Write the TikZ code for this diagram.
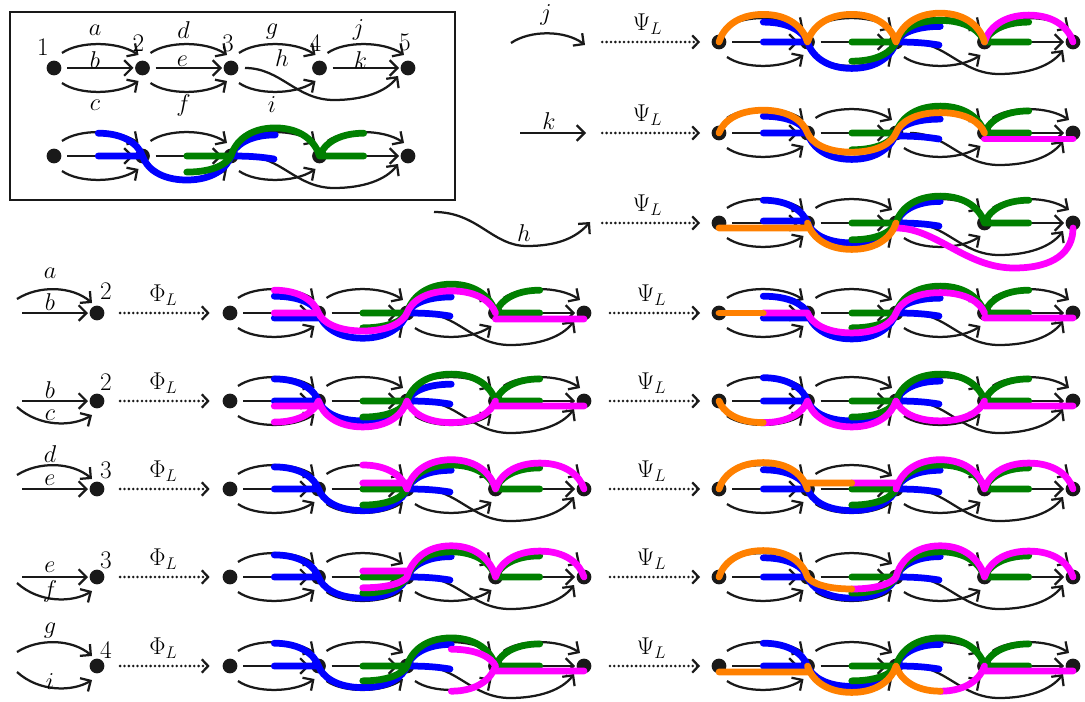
\documentclass[tikz,border=0pt]{standalone}
\usetikzlibrary{arrows.meta}
\definecolor{cblue}{RGB}{0,0,255}
\definecolor{cgreen}{RGB}{0,128,0}
\definecolor{cmag}{RGB}{255,0,255}
\definecolor{corange}{RGB}{255,128,0}
\definecolor{ink}{RGB}{25,25,25}

% spacing between consecutive vertices (in picture units)
\def\gsp{88.5}

\tikzset{
  edge/.style={draw=ink, line width=1.6pt, -{Straight Barb[length=5.5pt,width=11pt]}},
  dot/.style={circle, fill=ink, inner sep=0pt, minimum size=10.5pt},
  frame/.style={draw=ink, line width=1.6pt},
  hl/.style={line width=4.8pt, line cap=round},
  hb/.style={hl, draw=cblue},
  hg/.style={hl, draw=cgreen},
  hm/.style={hl, draw=cmag},
  ho/.style={hl, draw=corange},
  mapto/.style={draw=ink, line width=2pt, dash pattern=on 0pt off 3.1pt, line cap=round,
    -{Straight Barb[length=4.5pt,width=9.5pt,line width=1.6pt]}},
}

% black arrows of the quiver
\newcommand\qtopedge[2]{\draw[edge] ([shift={(8,15)}]#1.center) .. controls ([shift={(25,27)}]#1.center) and ([shift={(-25,27)}]#2.center) .. ([shift={(-4,13)}]#2.center);}
\newcommand\qbotedge[2]{\draw[edge] ([shift={(8,-15)}]#1.center) .. controls ([shift={(25,-27)}]#1.center) and ([shift={(-25,-27)}]#2.center) .. ([shift={(-4,-13)}]#2.center);}
\newcommand\qstredge[2]{\draw[edge] ([shift={(13,0)}]#1.center) -- ([shift={(-9,0)}]#2.center);}
\newcommand\qlongedge[2]{\draw[edge] ([shift={(14,0)}]#1.center) .. controls ([shift={(50,0)}]#1.center) and ([shift={(65,-32)}]#1.center) .. ([shift={(103,-32)}]#1.center) .. controls ([shift={(-45,-32)}]#2.center) and ([shift={(-22,-24)}]#2.center) .. ([shift={(-10,-8)}]#2.center);}

% the quiver: vertices #1n1..#1n5 at (#2,#3), y measured downwards
\newcommand\qgraph[3]{%
  \begin{scope}[shift={(#2,-#3)}]
    \foreach \k in {1,...,5}{\node[dot] (#1n\k) at ({(\k-1)*\gsp},0) {};}
    \qtopedge{#1n1}{#1n2}\qstredge{#1n1}{#1n2}\qbotedge{#1n1}{#1n2}
    \qtopedge{#1n2}{#1n3}\qstredge{#1n2}{#1n3}\qbotedge{#1n2}{#1n3}
    \qtopedge{#1n3}{#1n4}\qlongedge{#1n3}{#1n5}\qbotedge{#1n3}{#1n4}
    \qtopedge{#1n4}{#1n5}\qstredge{#1n4}{#1n5}
  \end{scope}}

% half arrows for the coloured paths: vertex index, height factor / offset
\newcommand\qTout[2]{({(#1-1)*\gsp},0) .. controls ({(#1-1)*\gsp+4},{12*#2}) and ({(#1-1)*\gsp+18},{24*#2}) .. ({(#1-0.5)*\gsp},{24*#2})}
\newcommand\qTin[2]{({(#1-1.5)*\gsp},{24*#2}) .. controls ({(#1-1)*\gsp-18},{24*#2}) and ({(#1-1)*\gsp-4},{12*#2}) .. ({(#1-1)*\gsp},0)}
\newcommand\qBout[2]{({(#1-1)*\gsp},0) .. controls ({(#1-1)*\gsp+4},{-12*#2}) and ({(#1-1)*\gsp+18},{-24*#2}) .. ({(#1-0.5)*\gsp},{-24*#2})}
\newcommand\qBin[2]{({(#1-1.5)*\gsp},{-24*#2}) .. controls ({(#1-1)*\gsp-18},{-24*#2}) and ({(#1-1)*\gsp-4},{-12*#2}) .. ({(#1-1)*\gsp},0)}
\newcommand\qSout[2]{({(#1-1)*\gsp},#2) -- ({(#1-0.5)*\gsp},#2)}
\newcommand\qSin[2]{({(#1-1.5)*\gsp},#2) -- ({(#1-1)*\gsp},#2)}
\newcommand\qHout[1]{({2*\gsp},#1) .. controls ({2*\gsp+20},#1) and ({2*\gsp+30},{#1-1}) .. ({2*\gsp+43},{#1-3})}
\newcommand\qHfull[1]{({2*\gsp},#1) .. controls ({2*\gsp+40},#1) and ({2*\gsp+70},{#1-40}) .. ({2*\gsp+118},{#1-40}) .. controls ({2*\gsp+158},{#1-40}) and ({4*\gsp},{#1-24}) .. ({4*\gsp},#1)}

\newcommand\stdblue[5]{\draw[hb] \qTin{2}{#1} \qSin{2}{#2} \qBout{2}{#3} \qBin{3}{#3} \qTout{3}{#4} \qHout{#5};}
\newcommand\stdgreen[3]{\draw[hg] \qSin{3}{0} \qBin{3}{#1} \qTout{3}{#2} \qTin{4}{#2} \qTout{4}{#3} \qSout{4}{0};}
\newcommand\qovl[3]{\begin{scope}[shift={(#1,-#2)}]#3\end{scope}}

% incoming pair of arrows at a single vertex
\newcommand\inarrtop[1]{\draw[edge] ([shift={(-80,14)}]#1.center) .. controls ([shift={(-58,28)}]#1.center) and ([shift={(-25,27)}]#1.center) .. ([shift={(-5,10)}]#1.center);}
\newcommand\inarrstr[1]{\draw[edge] ([shift={(-75,0)}]#1.center) -- ([shift={(-9,0)}]#1.center);}
\newcommand\inarrbot[1]{\draw[edge] ([shift={(-80,-6)}]#1.center) .. controls ([shift={(-58,-26)}]#1.center) and ([shift={(-25,-26)}]#1.center) .. ([shift={(-5,-14)}]#1.center);}

\begin{document}
\begin{tikzpicture}[x=0.025cm, y=0.025cm, font=\fontsize{18}{21}\selectfont]
\useasboundingbox (0,0) rectangle (1085,-702);

% ---------- framed quiver and its reference paths ----------
\coordinate (boxtl) at (10,-12);
\coordinate (boxbr) at (455,-200);
\draw[frame] (boxtl) rectangle (boxbr);
\qgraph{A}{54}{68}
\node (A1) at ([shift={(-11,21)}]An1) {1};
\node (A2) at ([shift={(-4,25)}]An2) {2};
\node (A3) at ([shift={(-3,25)}]An3) {3};
\node (A4) at ([shift={(-4,25)}]An4) {4};
\node (A5) at ([shift={(-3,26)}]An5) {5};
\node (la) at ([shift={(41,38)}]An1) {$a$};
\node (lb) at ([shift={(41,8)}]An1) {$b$};
\node (lc) at ([shift={(41,-37)}]An1) {$c$};
\node (ld) at ([shift={(41,38)}]An2) {$d$};
\node (le) at ([shift={(40,7)}]An2) {$e$};
\node (lf) at ([shift={(41,-37)}]An2) {$f$};
\node (lg) at ([shift={(41,36)}]An3) {$g$};
\node (lh) at ([shift={(51,10)}]An3) {$h$};
\node (li) at ([shift={(41,-37)}]An3) {$i$};
\node (lj) at ([shift={(39,38)}]An4) {$j$};
\node (lk) at ([shift={(41,8)}]An4) {$k$};

\qgraph{B}{54}{156}
\qovl{54}{156}{\stdblue{0.95}{0}{1.0}{0.88}{0}\stdgreen{0.67}{1.17}{0.95}}

% ---------- row j ----------
\coordinate (js) at (511,-43);
\coordinate (je) at (585,-45);
\draw[edge] (js) .. controls (530,-30) and (565,-30) .. (je);
\node (tj) at (546,-15) {$j$};
\coordinate (pj) at (584,-42);
\qgraph{R1}{719}{42}
\draw[mapto, shorten <=13pt, shorten >=8pt] (pj) -- node[above=1pt] {$\Psi_L$} (R1n1);
\qovl{719}{42}{\stdblue{0.83}{0}{1.1}{0.65}{0}\stdgreen{0.8}{0.9}{0.83}
  \draw[hm] \qTout{4}{1.12} \qTin{5}{1.12};
  \draw[ho] \qTout{1}{1.15} \qTin{2}{1.15} \qTout{2}{1.15} \qTin{3}{1.15} \qTout{3}{1.2} \qTin{4}{1.2};}

% ---------- row k ----------
\coordinate (ks) at (520,-133);
\coordinate (ke) at (586,-133);
\draw[edge] (ks) -- (ke);
\node (tk) at (549,-121) {$k$};
\coordinate (pk) at (584,-133);
\qgraph{R2}{719}{133}
\draw[mapto, shorten <=13pt, shorten >=8pt] (pk) -- node[above=1pt] {$\Psi_L$} (R2n1);
\qovl{719}{133}{\stdblue{0.7}{0}{1.1}{0.58}{-3}\stdgreen{0.7}{1.12}{0.92}
  \draw[hm] \qSout{4}{-6} \qSin{5}{-6};
  \draw[ho] \qTout{1}{0.95} \qTin{2}{0.95} \qBout{2}{0.8} \qBin{3}{0.8} \qTout{3}{0.85} \qTin{4}{0.85};}

% ---------- row h ----------
\coordinate (hs) at (434,-212);
\coordinate (he) at (590,-222);
\draw[edge] (hs) .. controls (478,-212) and (492,-246) .. (527,-246) .. controls (557,-246) and (576,-238) .. (he);
\node (th) at (524,-233) {$h$};
\coordinate (ph) at (584,-223);
\qgraph{R3}{719}{223}
\draw[mapto, shorten <=13pt, shorten >=8pt] (ph) -- node[above=1pt] {$\Psi_L$} (R3n1);
\qovl{719}{223}{\stdblue{0.95}{2}{0.83}{0.9}{0}\stdgreen{0.7}{1.12}{0.95}
  \draw[hm] \qHfull{-5};
  \draw[ho] \qSout{1}{-5} \qSin{2}{-5} \qBout{2}{1.1} \qBin{3}{1.1};}

% ---------- row a, b ----------
\node[dot] (v4) at (97,-313) {};
\inarrtop{v4}\inarrstr{v4}
\node (v4a) at ([shift={(-47,40)}]v4) {$a$};
\node (v4b) at ([shift={(-47,11)}]v4) {$b$};
\node (v4n) at ([shift={(9,22)}]v4) {2};
\qgraph{L4}{230}{313}
\qgraph{R4}{719}{313}
\draw[mapto, shorten <=11pt, shorten >=9pt] (v4) -- node[above=1pt] {$\Phi_L$} (L4n1);
\draw[mapto, shorten <=13pt, shorten >=8pt] (L4n5) -- node[above=1pt] {$\Psi_L$} (R4n1);
\qovl{230}{313}{\stdblue{0.7}{-5}{1.05}{0.67}{0}\stdgreen{0.62}{1.2}{0.95}
  \draw[hm] \qTin{2}{0.95} \qSin{2}{0} \qBout{2}{0.75} \qBin{3}{0.75} \qTout{3}{0.92} \qTin{4}{0.92} \qSout{4}{-6} \qSin{5}{-6};}
\qovl{719}{313}{\stdblue{0.7}{-5}{1.08}{0.62}{0}\stdgreen{0.62}{1.12}{0.95}
  \draw[hm] \qSin{2}{0} \qBout{2}{0.83} \qBin{3}{0.83} \qTout{3}{0.85} \qTin{4}{0.85} \qSout{4}{-5} \qSin{5}{-5};
  \draw[ho] \qSout{1}{0};}

% ---------- row b, c ----------
\node[dot] (v5) at (97,-401) {};
\inarrstr{v5}\inarrbot{v5}
\node (v5b) at ([shift={(-47,11)}]v5) {$b$};
\node (v5c) at ([shift={(-47,-14)}]v5) {$c$};
\node (v5n) at ([shift={(9,19)}]v5) {2};
\qgraph{L5}{230}{401}
\qgraph{R5}{719}{401}
\draw[mapto, shorten <=11pt, shorten >=9pt] (v5) -- node[above=1pt] {$\Phi_L$} (L5n1);
\draw[mapto, shorten <=13pt, shorten >=8pt] (L5n5) -- node[above=1pt] {$\Psi_L$} (R5n1);
\qovl{230}{401}{\stdblue{0.92}{0}{0.83}{0.7}{0}\stdgreen{0.67}{1.12}{0.92}
  \draw[hm] \qSin{2}{-5} \qBin{2}{0.88} \qBout{2}{1.08} \qBin{3}{1.08} \qBout{3}{0.9} \qBin{4}{0.9} \qSout{4}{-5} \qSin{5}{-5};}
\qovl{719}{401}{\stdblue{0.97}{0}{0.83}{0.83}{0}\stdgreen{0.67}{1.12}{0.92}
  \draw[hm] \qBin{2}{0.9} \qBout{2}{1.08} \qBin{3}{1.08} \qBout{3}{0.83} \qBin{4}{0.83} \qSout{4}{-5} \qSin{5}{-5};
  \draw[ho] \qBout{1}{0.9};}

% ---------- row d, e ----------
\node[dot] (v6) at (97,-489) {};
\inarrtop{v6}\inarrstr{v6}
\node (v6d) at ([shift={(-47,35)}]v6) {$d$};
\node (v6e) at ([shift={(-47,9)}]v6) {$e$};
\node (v6n) at ([shift={(9,19)}]v6) {3};
\qgraph{L6}{230}{489}
\qgraph{R6}{719}{489}
\draw[mapto, shorten <=11pt, shorten >=9pt] (v6) -- node[above=1pt] {$\Phi_L$} (L6n1);
\draw[mapto, shorten <=13pt, shorten >=8pt] (L6n5) -- node[above=1pt] {$\Psi_L$} (R6n1);
\qovl{230}{489}{\stdblue{0.92}{0}{0.9}{0.78}{0}\stdgreen{0.67}{1.0}{0.88}
  \draw[hm] \qTin{3}{1.0} \qSin{3}{6} \qTout{3}{1.22} \qTin{4}{1.22} \qTout{4}{1.08} \qTin{5}{1.08};}
\qovl{719}{489}{\stdblue{0.8}{0}{0.9}{0.78}{0}\stdgreen{0.67}{1.0}{0.88}
  \draw[hm] \qSin{3}{6} \qTout{3}{1.22} \qTin{4}{1.22} \qTout{4}{1.08} \qTin{5}{1.08};
  \draw[ho] \qTout{1}{1.1} \qTin{2}{1.1} \qSout{2}{6};}

% ---------- row e, f ----------
\node[dot] (v7) at (97,-577) {};
\inarrstr{v7}\inarrbot{v7}
\node (v7e) at ([shift={(-47,10)}]v7) {$e$};
\node (v7f) at ([shift={(-47,-14)}]v7) {$f$};
\node (v7n) at ([shift={(9,17)}]v7) {3};
\qgraph{L7}{230}{577}
\qgraph{R7}{719}{577}
\draw[mapto, shorten <=11pt, shorten >=9pt] (v7) -- node[above=1pt] {$\Phi_L$} (L7n1);
\draw[mapto, shorten <=13pt, shorten >=8pt] (L7n5) -- node[above=1pt] {$\Psi_L$} (R7n1);
\qovl{230}{577}{\stdblue{0.92}{0}{0.88}{0.85}{0}\stdgreen{0.67}{1.05}{0.88}
  \draw[hm] \qSin{3}{6} \qBin{3}{0.45} \qTout{3}{1.3} \qTin{4}{1.3} \qTout{4}{1.08} \qTin{5}{1.08};}
\qovl{719}{577}{\stdblue{0.8}{0}{0.88}{0.85}{0}\stdgreen{0.67}{1.05}{0.88}
  \draw[hm] \qBin{3}{0.5} \qTout{3}{1.3} \qTin{4}{1.3} \qTout{4}{1.08} \qTin{5}{1.08};
  \draw[ho] \qTout{1}{1.1} \qTin{2}{1.1} \qBout{2}{0.5};}

% ---------- row g, i ----------
\node[dot] (v8) at (97,-666) {};
\inarrtop{v8}\inarrbot{v8}
\node (v8g) at ([shift={(-47,35)}]v8) {$g$};
\node (v8i) at ([shift={(-47,-16)}]v8) {$i$};
\node (v8n) at ([shift={(9,16)}]v8) {4};
\qgraph{L8}{230}{666}
\qgraph{R8}{719}{666}
\draw[mapto, shorten <=11pt, shorten >=9pt] (v8) -- node[above=1pt] {$\Phi_L$} (L8n1);
\draw[mapto, shorten <=13pt, shorten >=8pt] (L8n5) -- node[above=1pt] {$\Psi_L$} (R8n1);
\qovl{230}{666}{\stdblue{0.95}{0}{0.9}{0.9}{0}\stdgreen{0.62}{1.17}{0.92}
  \draw[hm] \qTin{4}{0.7} \qBin{4}{1.05} \qSout{4}{-5} \qSin{5}{-5};}
\qovl{719}{666}{\stdblue{0.95}{0}{0.85}{0.9}{0}\stdgreen{0.62}{1.17}{0.92}
  \draw[hm] \qBin{4}{1.05} \qSout{4}{-5} \qSin{5}{-5};
  \draw[ho] \qSout{1}{-6} \qSin{2}{-6} \qBout{2}{1.1} \qBin{3}{1.1} \qBout{3}{1.05};}

\end{tikzpicture}
\end{document}
